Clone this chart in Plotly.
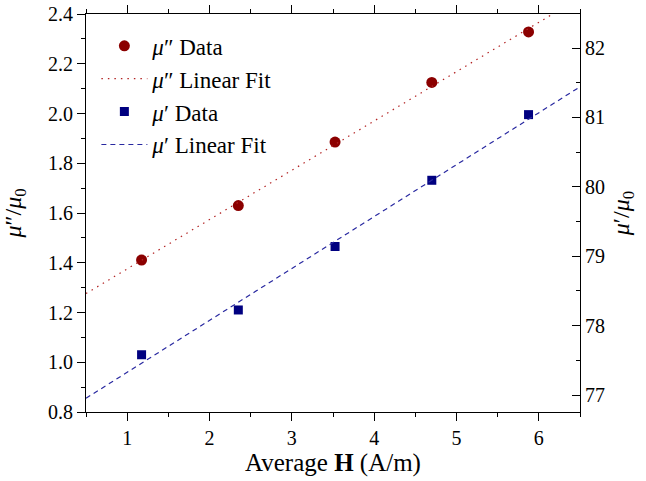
import numpy as np
import plotly.graph_objects as go

# Data
H = [1.175, 2.35, 3.525, 4.70, 5.875]
mu2 = [1.411, 1.63, 1.885, 2.125, 2.328]          # mu'' / mu0 (left axis)
mu1 = [77.58, 78.225, 79.14, 80.094, 81.04]       # mu' / mu0 (right axis)
x_fit = [0.5, 6.5]

# Linear fits from the data
p2 = np.polyfit(H, mu2, 1)
p1 = np.polyfit(H, mu1, 1)
fit2 = list(np.polyval(p2, x_fit))
fit1 = list(np.polyval(p1, x_fit))

FONT = "Liberation Serif"
RED = "#8B0000"
BLUE = "#000080"

fig = go.Figure()
fig.add_trace(go.Scatter(x=H, y=mu2, mode="markers", name="<i>μ</i>″ Data", legendgroup="a",
                         marker=dict(symbol="circle", size=11, color=RED), yaxis="y"))
fig.add_trace(go.Scatter(x=x_fit, y=fit2, mode="lines", name="<i>μ</i>″ Linear Fit", legendgroup="b",
                         line=dict(color="#B22222", width=1.2, dash="1.5px,5px"), yaxis="y"))
fig.add_trace(go.Scatter(x=H, y=mu1, mode="markers", name="<i>μ</i>′ Data", legendgroup="c",
                         marker=dict(symbol="square", size=9, color=BLUE), yaxis="y2"))
fig.add_trace(go.Scatter(x=x_fit, y=fit1, mode="lines", name="<i>μ</i>′ Linear Fit", legendgroup="d",
                         line=dict(color="#2828A0", width=1.2, dash="5px,4px"), yaxis="y2"))

axis_common = dict(showline=True, linecolor="black", linewidth=1, showgrid=False,
                   zeroline=False, tickcolor="black", ticklen=8, tickwidth=1, automargin=False,
                   tickfont=dict(family=FONT, size=20, color="black"))

fig.update_layout(
    width=646, height=481,
    margin=dict(l=86, r=66, t=14, b=69),
    paper_bgcolor="white", plot_bgcolor="white",
    font=dict(family=FONT, size=20, color="black"),
    showlegend=True,
    legend=dict(x=0.021, y=0.974, xanchor="left", yanchor="top",
                bgcolor="rgba(0,0,0,0)", font=dict(family=FONT, size=23, color="black"),
                itemwidth=46, tracegroupgap=0),
    xaxis=dict(range=[0.5, 6.5], dtick=1, tick0=0, ticks="outside", mirror="ticks",
               minor=dict(dtick=0.5, tick0=0, ticks="outside", ticklen=4, tickcolor="black"),
               title=dict(text="Average <b>H</b> (A/m)", font=dict(family=FONT, size=25), standoff=4),
               **axis_common),
    yaxis=dict(range=[0.8, 2.4], dtick=0.2, tick0=0, ticks="outside", tickformat=".1f",
               minor=dict(dtick=0.1, tick0=0, ticks="outside", ticklen=4, tickcolor="black"),
               title=dict(text="<i>μ</i>″/<i>μ</i><sub>0</sub>", font=dict(family=FONT, size=24), standoff=19),
               **axis_common),
    yaxis2=dict(range=[76.755, 82.49], dtick=1, tick0=0, ticks="inside", side="right",
                overlaying="y", anchor="x",
                minor=dict(dtick=0.5, tick0=0, ticks="inside", ticklen=4, tickcolor="black"),
                title=dict(text="<i>μ</i>′/<i>μ</i><sub>0</sub>", font=dict(family=FONT, size=24), standoff=8),
                **axis_common),
)

fig.write_html("out.html", config={"displayModeBar": False},
               post_script="document.body.style.margin='0px';")
